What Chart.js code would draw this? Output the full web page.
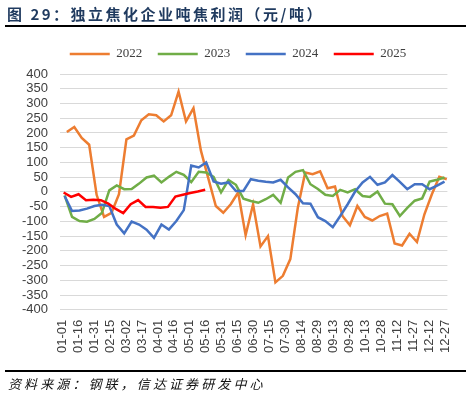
<!DOCTYPE html>
<html>
<head>
<meta charset="utf-8">
<script src="https://cdn.jsdelivr.net/npm/chart.js@4.4.0/dist/chart.umd.min.js"></script>
<style>
  html, body { margin: 0; padding: 0; background: #fff; }
  #wrap { position: relative; width: 471px; height: 396px; overflow: hidden; }
  #chart { position: absolute; left: 0; top: 0; }
  #title { position: absolute; left: 7px; top: 3px; font: bold 15px "Noto Sans CJK SC"; color: #1f3a5f; letter-spacing: 2.5px; white-space: nowrap; }
  .rule { position: absolute; left: 5px; width: 461px; height: 2px; background: #000; }
  #source { position: absolute; left: 8px; top: 374px; font: italic 13px "Noto Sans CJK SC"; color: #111; letter-spacing: 3.1px; white-space: nowrap; }
</style>
</head>
<body>
<div id="wrap">
  <canvas id="chart" width="471" height="396"></canvas>
  <div id="title">图 29：独立焦化企业吨焦利润（元/吨）</div>
  <div class="rule" style="top:25px"></div>
  <div class="rule" style="top:370px"></div>
  <div id="source">资料来源：钢联，信达证券研发中心</div>
</div>
<script>
// x axis tick labels, one every 15 days starting 01-01
const tickLabels = ['01-01','01-16','01-31','02-15','03-02','03-17','04-01','04-16','05-01','05-16',
  '05-31','06-15','06-30','07-15','07-30','08-14','08-29','09-13','09-28','10-13','10-28','11-12',
  '11-27','12-12','12-27'];
const tickDays = tickLabels.map((_, i) => i * 15);

// weekly profit, yuan per tonne
const v2022 = [203, 220, 183, 160, -10, -85, -71, -8, 178, 191,
  243, 263, 260, 239, 260, 340, 239, 284, 140, 45,
  -48, -71, -42, -2, -147, -42, -185, -150, -307, -285,
  -228, -55, 66, 60, 70, 12, 18, -82, -113, -48,
  -85, -97, -82, -74, -175, -182, -142, -170, -76, -8,
  51, 43];
const v2023 = [-12, -85, -99, -101, -92, -72, 5, 22, 9, 10,
  28, 49, 55, 32, 51, 68, 58, 33, 68, 66,
  51, -2, 40, 24, -23, -31, -37, -25, -10, -37,
  49, 68, 74, 26, 10, -10, -14, 7, -2, 9,
  -14, -17, 1, -40, -42, -82, -54, -30, -22, 35,
  41, 49];
const v2024 = [-14, -65, -63, -57, -48, -44, -48, -111, -141, -101,
  -111, -128, -156, -111, -128, -99, -62, 89, 83, 100,
  35, 28, 32, 3, 3, 43, 38, 34, 32, 41,
  15, -8, -39, -40, -86, -99, -120, -82, -42, 1,
  32, 51, 24, 32, 57, 34, 9, 26, 26, 9,
  21, 35];
const v2025 = [-2, -17, -8, -28, -27, -28, -40, -58, -72, -42,
  -28, -51, -51, -54, -51, -16, -10, -4, 1, 7];

// day of year of each series' first weekly reading
const start2022 = 4.4;
const start2023 = 2.3;
const start2024 = 2.3;
const start2025 = 1.4;

function weekly(start, values) {
  return values.map((v, i) => ({x: start + i * 7, y: v}));
}

function series(label, color, start, values, order) {
  return {
    label: label,
    data: weekly(start, values),
    borderColor: color,
    backgroundColor: color,
    borderWidth: 2.5,
    pointRadius: 0,
    tension: 0,
    order: order,
  };
}

// nudges the legend so it sits where the original one did
const legendNudge = {
  id: 'legendNudge',
  beforeInit(chart) {
    const fit = chart.legend.fit;
    chart.legend.fit = function () {
      fit.call(this);
      this.height += 3.5;
    };
  },
  afterLayout(chart) {
    chart.legend.left += 9;
    chart.legend.right += 9;
  }
};

new Chart(document.getElementById('chart'), {
  type: 'line',
  data: {
    datasets: [
      series('2022', '#ED7D31', start2022, v2022, 3),
      series('2023', '#70AD47', start2023, v2023, 2),
      series('2024', '#4472C4', start2024, v2024, 1),
      series('2025', '#FF0000', start2025, v2025, 0),
    ]
  },
  options: {
    responsive: false,
    animation: false,
    layout: {
      padding: {left: 10, right: 23, top: 32, bottom: 33}
    },
    plugins: {
      legend: {
        display: true,
        position: 'top',
        labels: {
          usePointStyle: true,
          pointStyle: 'line',
          pointStyleWidth: 40,
          boxHeight: 13,
          padding: 15.5,
          color: '#404040',
          font: {family: '"Liberation Serif"', size: 13},
          sort: (a, b) => a.datasetIndex - b.datasetIndex,
        }
      },
      tooltip: {enabled: false},
    },
    scales: {
      x: {
        type: 'linear',
        min: -2,
        max: 362,
        grid: {display: false, drawTicks: false},
        border: {display: false},
        afterBuildTicks: (scale) => {
          scale.ticks = tickDays.map(v => ({value: v}));
        },
        ticks: {
          autoSkip: false,
          minRotation: 90,
          maxRotation: 90,
          padding: 10,
          color: '#404040',
          font: {family: '"Liberation Sans"', size: 13},
          callback: (value) => tickLabels[tickDays.indexOf(value)],
        }
      },
      y: {
        min: -400,
        max: 400,
        grid: {color: '#d9d9d9', lineWidth: 1, drawTicks: false},
        border: {display: false},
        ticks: {
          stepSize: 50,
          autoSkip: false,
          padding: 12,
          color: '#404040',
          font: {family: '"Liberation Sans"', size: 13},
        }
      }
    }
  },
  plugins: [legendNudge],
});
</script>
</body>
</html>
